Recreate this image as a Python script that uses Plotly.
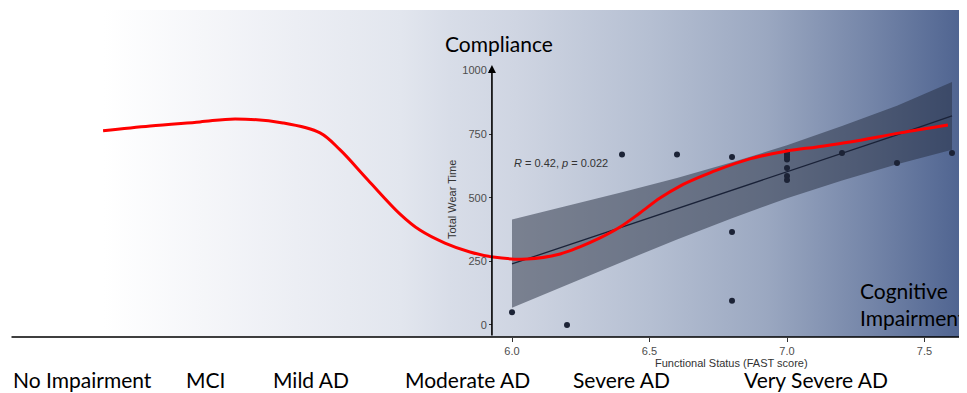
import plotly.graph_objects as go

# ---------------- data ----------------
stages = ["No Impairment", "MCI", "Mild AD", "Moderate AD", "Severe AD", "Very Severe AD"]

fast_score = [6.0, 6.2, 6.4, 6.6, 6.8, 6.8, 6.8, 7.0, 7.0, 7.0, 7.0, 7.0, 7.0, 7.0, 7.2, 7.4, 7.6]
wear_time = [50, 0, 670, 670, 660, 365, 95, 680, 670, 660, 650, 617, 586, 570, 676, 637, 676]

fit_x = [6.0, 6.2, 6.4, 6.6, 6.8, 7.0, 7.2, 7.4, 7.6]
fit_y = [240, 312, 385, 457, 530, 602, 675, 747, 822]
fit_lo = [68, 158, 248, 336, 420, 498, 568, 632, 689]
fit_hi = [415, 468, 522, 578, 640, 706, 782, 862, 955]

trend_x = [4.513, 4.684, 4.865, 4.993, 5.167, 5.302, 5.375, 5.476, 5.593, 5.665, 5.756,
           5.847, 5.931, 6.055, 6.175, 6.247, 6.32, 6.393, 6.465, 6.538, 6.611, 6.684,
           6.745, 6.865, 7.0, 7.109, 7.229, 7.411, 7.585]
trend_y = [763, 782, 798, 810, 794, 755, 688, 570, 436, 373, 322,
           287, 267, 259, 279, 307, 342, 385, 440, 499, 546, 582,
           609, 653, 684, 700, 719, 755, 786]

y_ticks = [0, 250, 500, 750, 1000]
x_ticks = [6.0, 6.5, 7.0, 7.5]
x_tick_text = ["6.0", "6.5", "7.0", "7.5"]

# ---------------- layout geometry ----------------
# page body has an 8px margin, so the figure is drawn 8px smaller and offset
OFF = 8
W, H = 967 - OFF, 393 - OFF
X0, X1 = 6.0 - (512 - OFF) / 275, 7.6545
Y0, Y1 = -47.2, 1238
YAX_X = 5.927


def pap_x(px):
    return (px - OFF) / W


def pap_y(py):
    return (337 - py) / 327


fig = go.Figure()

# gradient background
fig.add_trace(go.Scatter(
    x=[X0, X1, X1, X0, X0], y=[Y0, Y0, Y1, Y1, Y0],
    mode="lines", fill="toself", line=dict(width=0),
    fillgradient=dict(type="horizontal", colorscale=[
        [0.0, "#ffffff"], [0.10, "#ffffff"], [0.30, "#eceef4"], [0.41, "#e2e6ee"],
        [0.46, "#d8dde8"], [0.53, "#cfd5e2"], [0.67, "#b5bfd2"], [0.79, "#9ba8c1"],
        [0.90, "#7485a8"], [1.0, "#4d628f"]]),
    hoverinfo="skip", showlegend=False))

# confidence band
fig.add_trace(go.Scatter(
    x=fit_x + fit_x[::-1], y=fit_hi + fit_lo[::-1],
    mode="lines", fill="toself", line=dict(width=0),
    fillcolor="rgba(35,44,62,0.5)", hoverinfo="skip", showlegend=False))

# regression line
fig.add_trace(go.Scatter(
    x=fit_x, y=fit_y, mode="lines",
    line=dict(color="#1a2238", width=1.3), hoverinfo="skip", showlegend=False))

# points
fig.add_trace(go.Scatter(
    x=fast_score, y=wear_time, mode="markers",
    marker=dict(color="#1c2336", size=6), hoverinfo="skip", showlegend=False))

# red trend curve
fig.add_trace(go.Scatter(
    x=trend_x, y=trend_y, mode="lines",
    line=dict(color="#ff0000", width=3, shape="spline", smoothing=1.0),
    hoverinfo="skip", showlegend=False))

fig.update_layout(
    width=W, height=H,
    margin=dict(l=0, r=0, t=10 - OFF, b=56, autoexpand=False),
    paper_bgcolor="white", plot_bgcolor="white",
    xaxis=dict(range=[X0, X1], showgrid=False, zeroline=False, showline=False,
               tickvals=x_ticks, ticktext=x_tick_text, ticks="outside", ticklen=4,
               tickcolor="#333333", tickfont=dict(family="Arial", size=11, color="#4d4d4d")),
    yaxis=dict(range=[Y0, Y1], showgrid=False, zeroline=False, showline=False,
               anchor="free", position=pap_x(492),
               tickvals=y_ticks, ticks="outside", ticklen=3, tickcolor="#333333",
               tickfont=dict(family="Arial", size=11, color="#4d4d4d")),
    font=dict(family="Lato"),
)

# axis arrows
fig.add_annotation(x=X1, y=Y0, ax=X0 + 2 / 275, ay=Y0, xref="x", yref="y", axref="x", ayref="y",
                   text="", showarrow=True, arrowhead=2, arrowsize=1, arrowwidth=1.6, arrowcolor="black")
fig.add_annotation(x=YAX_X, y=1022, ax=YAX_X, ay=Y0, xref="x", yref="y", axref="x", ayref="y",
                   text="", showarrow=True, arrowhead=2, arrowsize=1, arrowwidth=1.6, arrowcolor="black")

# axis titles
fig.add_annotation(x=pap_x(452), y=pap_y(200), xref="paper", yref="paper", text="Total Wear Time",
                   xanchor="center", yanchor="middle",
                   textangle=-90, showarrow=False, font=dict(family="Arial", size=11, color="#333333"))
fig.add_annotation(x=pap_x(731), y=pap_y(363), xref="paper", yref="paper", text="Functional Status (FAST score)",
                   xanchor="center", yanchor="middle",
                   showarrow=False, font=dict(family="Arial", size=11, color="#333333"))

# stats label
fig.add_annotation(x=6.0, y=637, xref="x", yref="y", xanchor="left", yanchor="middle", showarrow=False,
                   text="<i>R</i> = 0.42, <i>p</i> = 0.022",
                   font=dict(family="Arial", size=11, color="#333333"))

# big labels
big_font = dict(family="Lato", size=21, color="black")
fig.add_annotation(x=pap_x(443), y=pap_y(44), xref="paper", yref="paper", xanchor="left", yanchor="middle",
                   showarrow=False, text="Compliance", font=big_font)
fig.add_annotation(x=pap_x(858), y=pap_y(290), xref="paper", yref="paper", xanchor="left", yanchor="middle",
                   showarrow=False, text="Cognitive", font=big_font)
fig.add_annotation(x=pap_x(858), y=pap_y(317), xref="paper", yref="paper", xanchor="left", yanchor="middle",
                   showarrow=False, text="Impairment", font=big_font)

stage_x = [12, 185, 272, 404, 572, 743]
for s, px in zip(stages, stage_x):
    fig.add_annotation(x=pap_x(px), y=pap_y(379), xref="paper", yref="paper", xanchor="left",
                       yanchor="middle", borderpad=0, showarrow=False, text=s, font=big_font)

fig.write_html("out.html")
